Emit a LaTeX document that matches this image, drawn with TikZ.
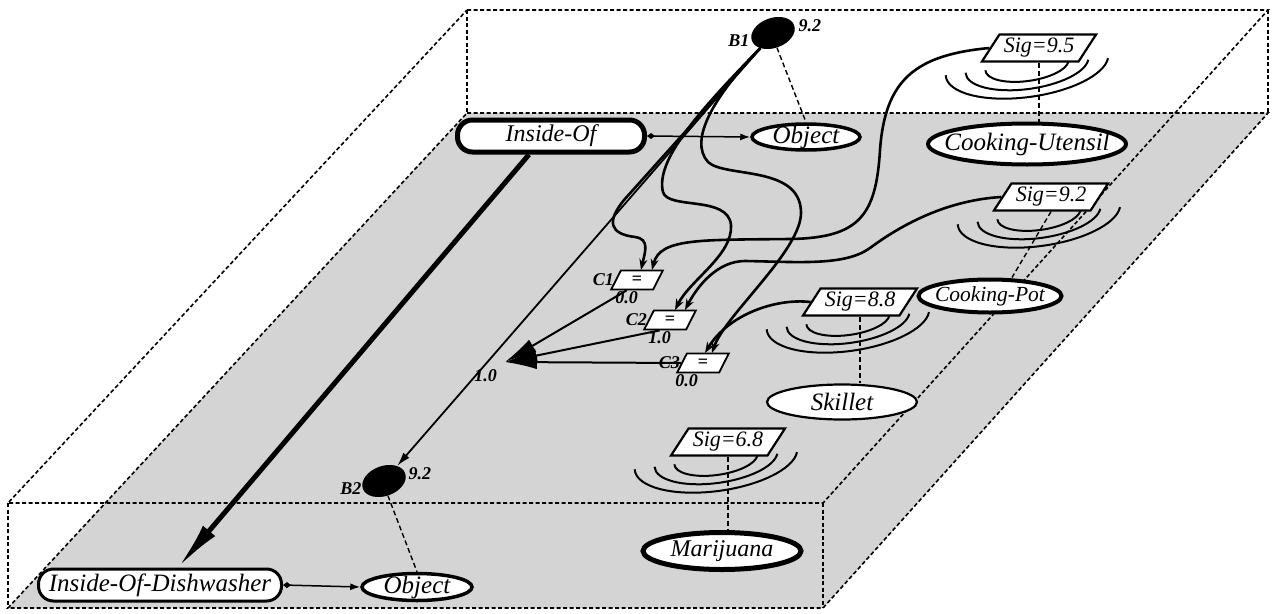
\documentclass[tikz,border=0pt]{standalone}
\usepackage{fontspec}
\setmainfont{Liberation Serif}
\usetikzlibrary{shapes.geometric, arrows.meta, positioning, calc}
\colorlet{planegrey}{black!17}

% three signal rings under a Sig box
\newcommand{\sigwaves}[1]{%
  \begin{scope}[shift={($(#1.center)+(-12,-17)$)}, rotate=8]
    \foreach \rx/\ry in {42/16, 62/24, 82/32}
      \draw [wave] ({\rx*cos(178)}, {\ry*sin(178)}) arc[start angle=178, end angle=352, x radius=\rx, y radius=\ry];
  \end{scope}}

\begin{document}
\begin{tikzpicture}[x=1pt, y=1pt, font=\fontsize{25}{28}\selectfont\itshape]
  \tikzstyle{relbox} = [rectangle, rounded corners=15pt, draw=black, fill=white, inner sep=0pt]
  \tikzstyle{concept} = [ellipse, draw=black, fill=white, inner xsep=-90pt, inner ysep=-20pt]
  \tikzstyle{blob} = [ellipse, fill=black, minimum width=45pt, minimum height=30pt, inner sep=0pt, rotate=20]
  \tikzstyle{sigbox} = [trapezium, trapezium left angle=57, trapezium right angle=123, draw=black, fill=white, line width=2.2pt, minimum height=27pt, inner xsep=-7pt, inner ysep=0pt, font=\fontsize{22}{24}\selectfont\itshape]
  \tikzstyle{cmpbox} = [trapezium, trapezium left angle=63, trapezium right angle=117, draw=black, fill=white, line width=1.8pt, minimum height=19pt, inner xsep=2pt, inner ysep=0pt, font=\fontsize{18}{20}\selectfont\bfseries]
  \tikzstyle{tag} = [inner sep=0pt, font=\fontsize{18}{20}\selectfont\bfseries\itshape]
  \tikzstyle{slab} = [line width=1.6pt, dash pattern=on 4pt off 2.5pt]
  \tikzstyle{attach} = [line width=1.4pt, dash pattern=on 5pt off 3pt]
  \tikzstyle{wave} = [line width=2pt]
  \tikzstyle{arrow} = [line width=2.6pt, -{Stealth[length=11pt, width=8pt]}]
  \tikzstyle{merge} = [line width=2pt, -{Latex[length=32pt, width=14pt]}]
  \tikzstyle{thinarrow} = [line width=1.8pt, -{Latex[length=14pt, width=8pt]}]
  \tikzstyle{bigarrow} = [line width=5pt, -{Latex[length=48pt, width=16pt]}]
  \tikzstyle{link} = [line width=1.5pt, {Diamond[length=8pt, width=6pt]}-{Latex[length=10pt, width=7pt]}]

  \useasboundingbox (0,0) rectangle (1273,-613);

  % the slab: upper face, lower (grey) face, uprights
  \coordinate (ubl) at (467,-10);  \coordinate (ubr) at (1268,-10);
  \coordinate (ufr) at (823,-503); \coordinate (ufl) at (8,-503);
  \coordinate (lbl) at (467,-113); \coordinate (lbr) at (1268,-113);
  \coordinate (lfr) at (823,-608); \coordinate (lfl) at (8,-608);
  \fill [planegrey] (lbl) -- (lbr) -- (lfr) -- (lfl) -- cycle;
  \draw [slab] (ubl) -- (ubr) -- (ufr) -- (ufl) -- cycle;
  \draw [slab] (lbl) -- (lbr) -- (lfr) -- (lfl) -- cycle;
  \foreach \c in {bl, br, fr, fl}
    \draw [slab] (u\c) -- (l\c);

  % nodes
  \node (insideof) [relbox, line width=5pt, minimum width=187pt, minimum height=32pt, font=\fontsize{24}{26}\selectfont\itshape] at (551,-136) {Inside-Of};
  \node (objtop) [concept, line width=3.5pt, minimum width=108pt, minimum height=26pt] at (806,-137) {Object};
  \node (b1) [blob] at (773,-33) {};
  \node (cookut) [concept, line width=4pt, minimum width=198pt, minimum height=41pt, font=\fontsize{25}{27}\selectfont\itshape] at (1027,-144) {Cooking-Utensil};
  \node (sig95) [sigbox] at (1039,-48) {Sig=9.5};
  \node (sig92) [sigbox] at (1051,-197) {Sig=9.2};
  \node (cookpot) [concept, line width=4pt, minimum width=143pt, minimum height=33pt, font=\fontsize{21.5}{24}\selectfont\itshape] at (990,-296) {Cooking-Pot};
  \node (sig88) [sigbox] at (860,-302) {Sig=8.8};
  \node (skillet) [concept, line width=2.2pt, minimum width=150pt, minimum height=35pt] at (842,-402) {Skillet};
  \node (sig68) [sigbox] at (728,-442) {Sig=6.8};
  \node (marij) [concept, line width=5pt, minimum width=158pt, minimum height=37pt, font=\fontsize{24}{26}\selectfont\itshape] at (722,-551) {Marijuana};
  \node (c1) [cmpbox] at (637,-280) {=};
  \node (c2) [cmpbox] at (670,-320) {=};
  \node (c3) [cmpbox] at (703,-363) {=};
  \node (b2) [blob] at (384,-481) {};
  \node (dishw) [relbox, line width=3pt, minimum width=243pt, minimum height=32pt] at (160,-585) {Inside-Of-Dishwasher};
  \node (objbot) [concept, line width=3.5pt, minimum width=110pt, minimum height=27pt] at (417,-587) {Object};
  \coordinate (join) at (505,-362);

  % labels
  \node (b1name) [tag, left=2pt of b1] {B1};
  \node (b1val) [tag, right=4pt of b1] {9.2};
  \node (b2name) [tag, left=1pt of b2] {B2};
  \node (b2val) [tag, right=3pt of b2] {9.2};
  \node (c1name) [tag, left=1pt of c1] {C1};
  \node (c1val) [tag, below=1pt of c1.south west] {0.0};
  \node (c2name) [tag, left=1pt of c2] {C2};
  \node (c2val) [tag, below=1pt of c2.south west] {1.0};
  \node (c3name) [tag, left=1pt of c3] {C3};
  \node (c3val) [tag, below=1pt of c3.south west, xshift=-6pt] {0.0};
  \node (joinval) [tag, below left=7pt and 8pt of join] {1.0};

  % signal rings
  \sigwaves{sig95}
  \sigwaves{sig92}
  \sigwaves{sig88}
  \sigwaves{sig68}

  % dashed attachments
  \draw [attach] (b1.265) -- (objtop.north);
  \draw [attach] (sig95.south) -- (sig95.south |- cookut.north);
  \draw [attach] (sig92.south) -- ([xshift=22pt]cookpot.north);
  \draw [attach] (sig88.south) -- (sig88.south |- skillet.north);
  \draw [attach] (sig68.south) -- (sig68.south |- marij.north);
  \draw [attach] (b2.265) -- (objbot.north);

  % relations
  \draw [link] (insideof.east) -- (objtop.west);
  \draw [link] (dishw.east) -- (objbot.west);
  \draw [bigarrow] ([xshift=-22pt]insideof.south) -- ([xshift=18pt]dishw.north);
  \draw [thinarrow] (b1.210) -- (b2);

  % inputs of the comparators
  \draw [arrow] (b1.210) -- (624,-200) .. controls (606,-222) and (610,-234) .. (635,-237) .. controls (650,-239) and (645,-252) .. ([shift={(4,10)}]c1.center);
  \draw [arrow] (b1.210) .. controls (700,-110) and (655,-160) .. (663,-192) .. controls (668,-210) and (728,-195) .. (731,-225) .. controls (733,-255) and (690,-280) .. ([shift={(5,10)}]c2.center);
  \draw [arrow] (b1.210) .. controls (715,-95) and (688,-140) .. (708,-162) .. controls (725,-178) and (800,-165) .. (801,-212) .. controls (802,-250) and (725,-315) .. ([shift={(9,10)}]c3.center);
  \draw [arrow] (sig95.west) .. controls (915,-55) and (885,-80) .. (880,-150) .. controls (876,-215) and (860,-238) .. (790,-239) .. controls (700,-240) and (660,-238) .. ([shift={(15,10)}]c1.center);
  \draw [arrow] (sig92.west) .. controls (950,-200) and (905,-222) .. (870,-248) .. controls (845,-266) and (800,-262) .. (745,-261) .. controls (718,-261) and (698,-285) .. ([shift={(15,10)}]c2.center);
  \draw [arrow] (sig88.west) .. controls (775,-298) and (728,-315) .. ([shift={(2,10)}]c3.center);

  % comparator outputs
  \draw [merge] (c1.south west) -- (join);
  \draw [merge] (c2.south west) -- (join);
  \draw [merge] (c3.west) -- (join);
\end{tikzpicture}
\end{document}
